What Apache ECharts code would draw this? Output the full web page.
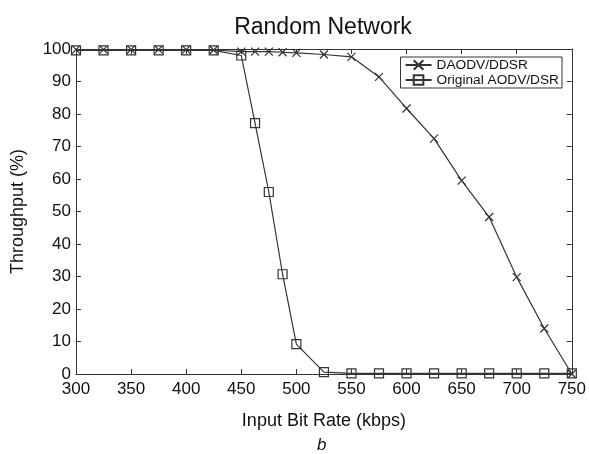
<!DOCTYPE html>
<html>
<head>
<meta charset="utf-8">
<script src="https://cdn.jsdelivr.net/npm/echarts@6/dist/echarts.min.js"></script>
<style>html,body{margin:0;padding:0;background:#fff}#c{width:589px;height:454px}</style>
</head>
<body>
<div id="c"></div>
<script>
var daodvX = [300, 325, 350, 375, 400, 425, 450, 462.5, 475, 487.5, 500, 525, 550, 575, 600, 625, 650, 675, 700, 725, 750];
var daodvY = [99.8, 99.8, 99.8, 99.8, 99.8, 99.7, 99.2, 99.2, 99.2, 99.0, 98.8, 98.3, 97.6, 91.4, 81.7, 72.4, 59.5, 48.3, 29.8, 14.0, 0.0];
var aodvX = [300, 325, 350, 375, 400, 425, 450, 462.5, 475, 487.5, 500, 525, 550, 575, 600, 625, 650, 675, 700, 725, 750];
var aodvY = [99.6, 99.6, 99.6, 99.6, 99.6, 99.6, 98.0, 77.2, 56.0, 30.7, 9.2, 0.6, 0.2, 0.2, 0.2, 0.2, 0.2, 0.2, 0.2, 0.2, 0.2];
var xTicks = [300, 750, 50];
var yTicks = [0, 100, 10];

function pairs(xs, ys) { return xs.map(function (x, i) { return [x, ys[i]]; }); }

var ink = '#333';
var font = 'Liberation Sans, Arial, sans-serif';
var chart = echarts.init(document.getElementById('c'));
var crossPath = 'path://M0,0L10,10M10,0L0,10';

function axisBase(pos, min, max, iv, labels) {
  return {
    type: 'value', position: pos, min: min, max: max, interval: iv,
    axisLine: { show: true, onZero: false, lineStyle: { color: ink, width: 1 } },
    axisTick: { show: true, inside: true, length: 5, lineStyle: { color: ink } },
    axisLabel: { show: labels, color: '#111', fontSize: 17, fontFamily: font, margin: 7 },
    splitLine: { show: false }
  };
}

var x0 = axisBase('bottom', xTicks[0], xTicks[1], xTicks[2], true);
x0.name = 'Input Bit Rate (kbps)';
x0.nameLocation = 'middle';
x0.nameGap = 38;
x0.nameTextStyle = { color: '#111', fontSize: 18, fontFamily: font };
var x1 = axisBase('top', xTicks[0], xTicks[1], xTicks[2], false);
var y0 = axisBase('left', yTicks[0], yTicks[1], yTicks[2], true);
y0.name = 'Throughput (%)';
y0.nameLocation = 'middle';
y0.nameGap = 49;
y0.nameTextStyle = { color: '#111', fontSize: 18, fontFamily: font };
y0.axisLabel.margin = 5;
var y1 = axisBase('right', yTicks[0], yTicks[1], yTicks[2], false);

chart.setOption({
  animation: false,
  backgroundColor: '#fff',
  title: {
    text: 'Random Network', left: 318, top: 11, textAlign: 'center',
    textStyle: { color: '#111', fontSize: 23, fontWeight: 'normal', fontFamily: font }
  },
  grid: { left: 76, right: 16, top: 49, bottom: 80 },
  xAxis: [x0, x1],
  yAxis: [y0, y1],
  legend: {
    orient: 'vertical', right: 27, top: 57,
    borderColor: ink, borderWidth: 1, padding: [1, 3, 1, 4], itemGap: 1,
    itemWidth: 26, itemHeight: 12,
    textStyle: { color: '#111', fontSize: 13.7, fontFamily: font },
    data: ['DAODV/DDSR', 'Original AODV/DSR']
  },
  graphic: [{
    type: 'text', left: 317, top: 437,
    style: { text: 'b', fontSize: 17, fontStyle: 'italic', fontFamily: font, fill: '#111' }
  }],
  series: [
    {
      name: 'DAODV/DDSR', type: 'line', xAxisIndex: 0, yAxisIndex: 0,
      data: pairs(daodvX, daodvY),
      symbol: crossPath, symbolSize: 8, showAllSymbol: true,
      lineStyle: { color: ink, width: 1.2 },
      itemStyle: { color: ink, borderColor: ink, borderWidth: 1.2 }
    },
    {
      name: 'Original AODV/DSR', type: 'line', xAxisIndex: 0, yAxisIndex: 0,
      data: pairs(aodvX, aodvY),
      symbol: 'rect', symbolSize: 9, showAllSymbol: true,
      lineStyle: { color: ink, width: 1.2 },
      itemStyle: { color: 'rgba(255,255,255,0)', borderColor: ink, borderWidth: 1.2 }
    }
  ]
});
</script>
</body>
</html>
